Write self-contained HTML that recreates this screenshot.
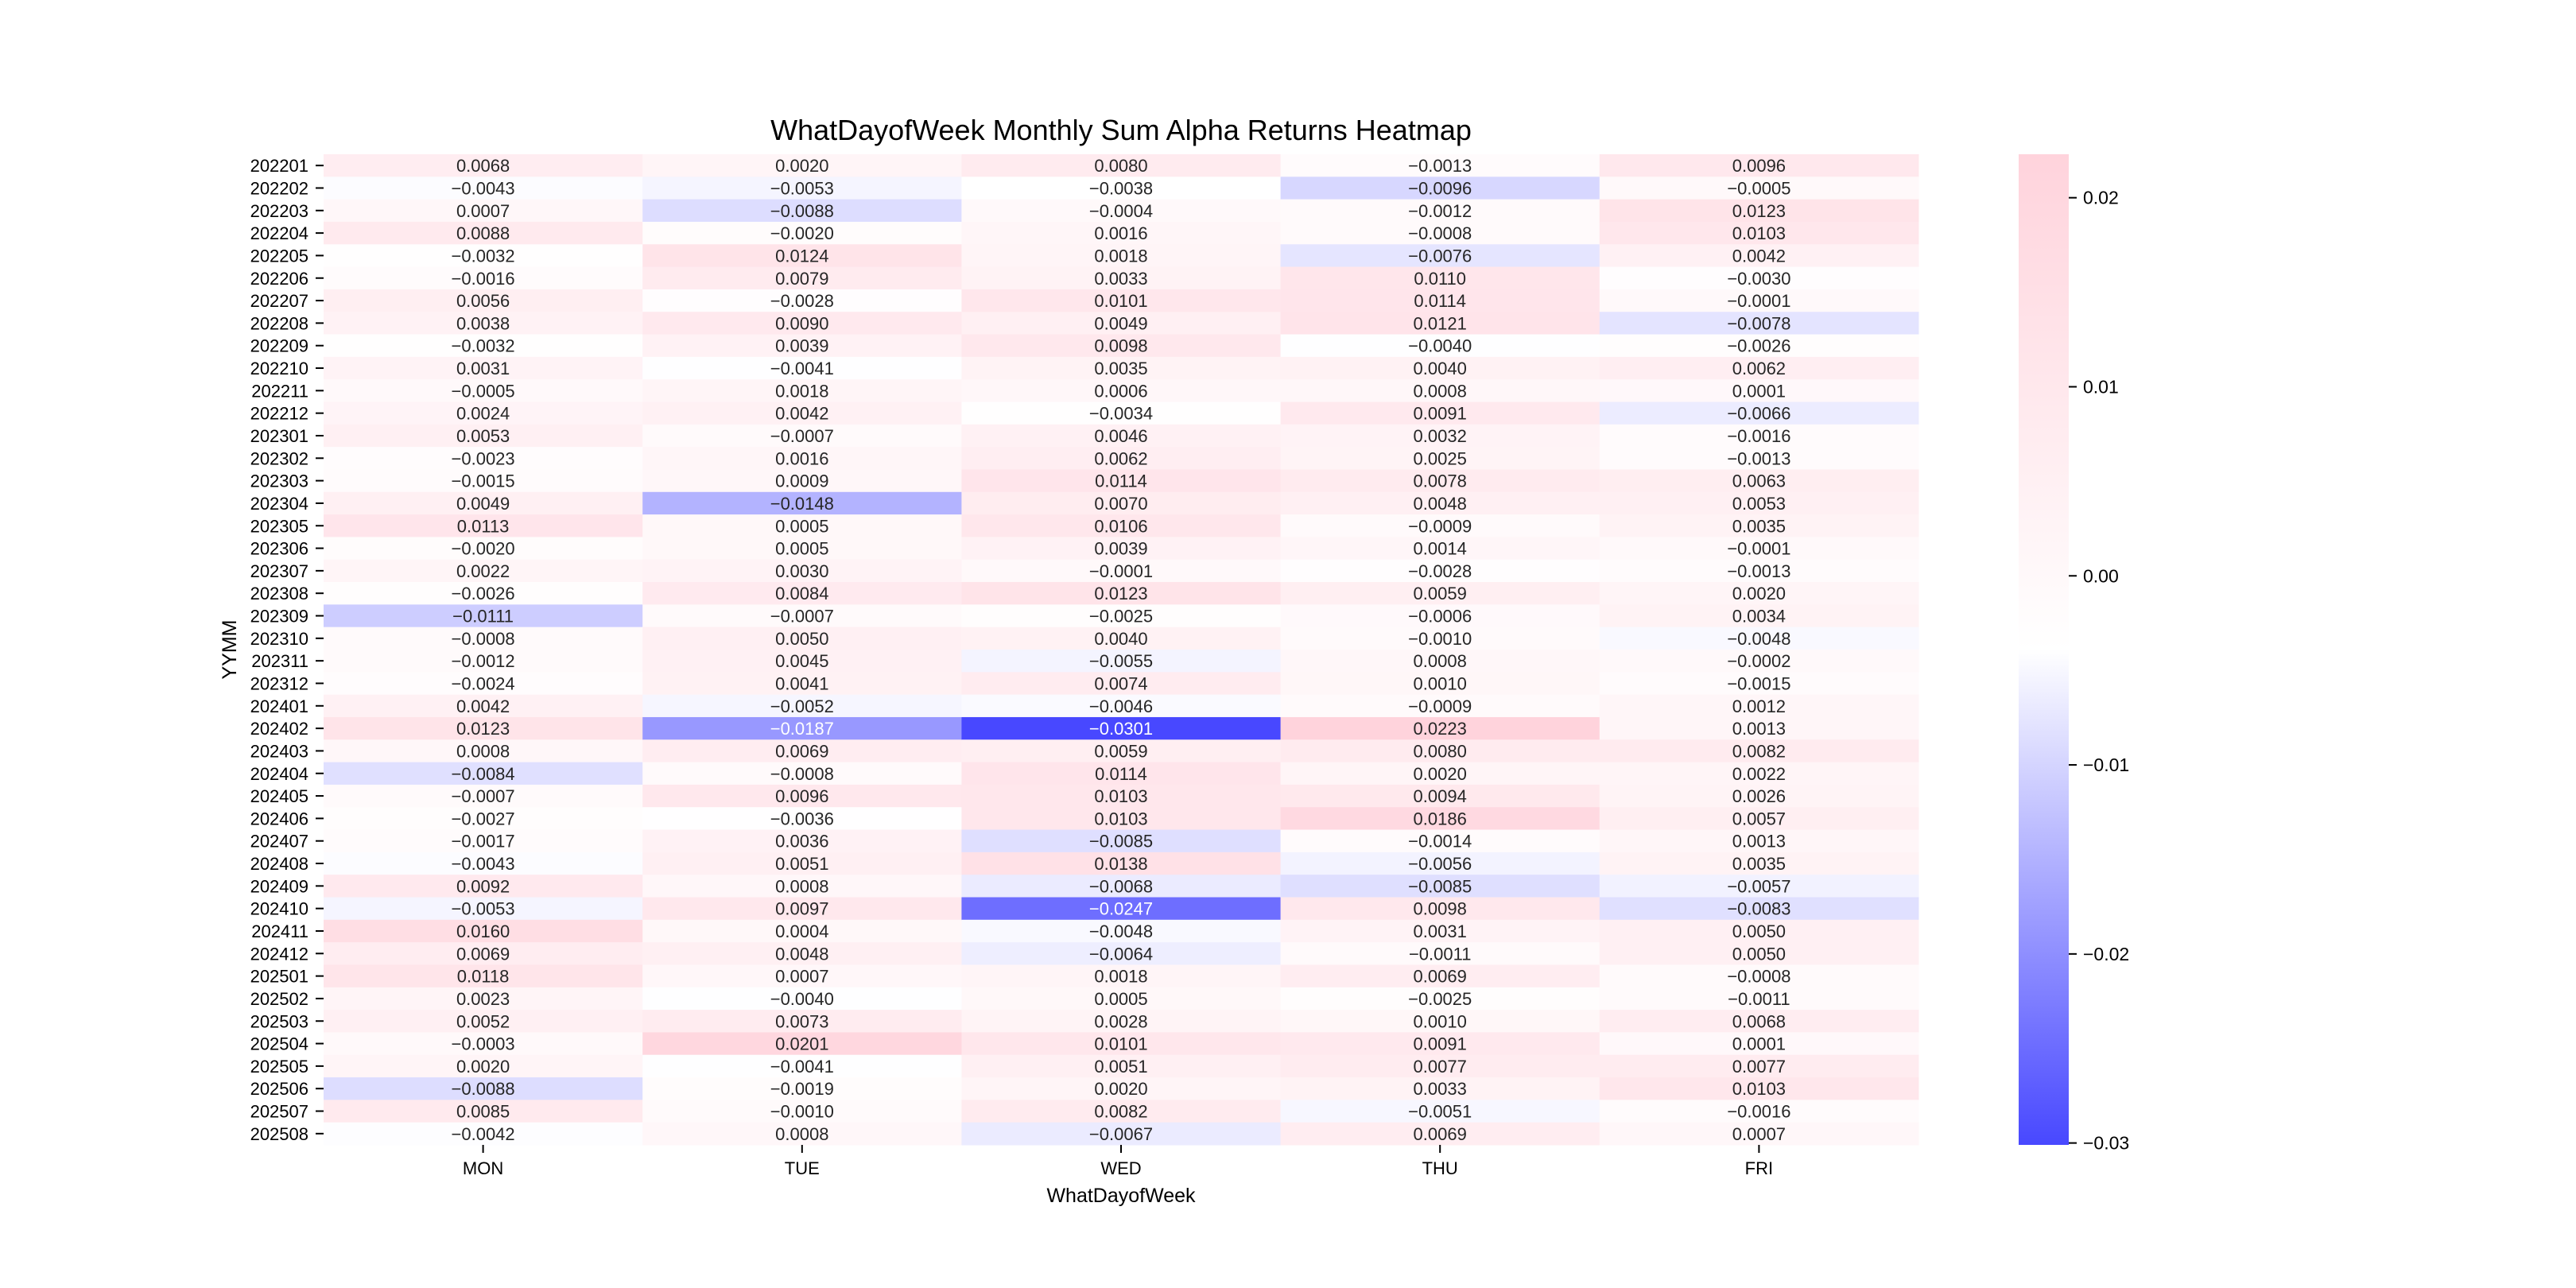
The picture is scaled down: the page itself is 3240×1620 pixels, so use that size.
<!DOCTYPE html>
<html><head><meta charset="utf-8"><style>
html,body{margin:0;padding:0;background:#fff;}
svg{display:block;font-family:"Liberation Sans","WenQuanYi Zen Hei",sans-serif;}
</style></head><body>
<svg id="chart" width="3240" height="1620" viewBox="0 0 3240 1620" xmlns="http://www.w3.org/2000/svg">
<defs><linearGradient id="cbgrad" x1="0" y1="1" x2="0" y2="0">
<stop offset="0" stop-color="rgb(72,72,255)"/><stop offset="0.5" stop-color="rgb(255,255,255)"/><stop offset="1" stop-color="rgb(255,211,220)"/>
</linearGradient></defs>
<text x="1410" y="176" font-size="36" text-anchor="middle" fill="#000">WhatDayofWeek Monthly Sum Alpha Returns Heatmap</text>
<g id="cells"></g>
<g id="yticks"></g>
<g id="xticks"></g>
<text x="1410" y="1512" font-size="25" text-anchor="middle">WhatDayofWeek</text>
<text transform="translate(297,817) rotate(-90)" font-size="25" text-anchor="middle">YYMM</text>
<rect x="2539" y="194" width="63" height="1246" fill="url(#cbgrad)"/>
<g id="cbticks"></g>
</svg>
<script>
const days = ["MON","TUE","WED","THU","FRI"];
const months = ["202201","202202","202203","202204","202205","202206","202207","202208","202209","202210","202211","202212","202301","202302","202303","202304","202305","202306","202307","202308","202309","202310","202311","202312","202401","202402","202403","202404","202405","202406","202407","202408","202409","202410","202411","202412","202501","202502","202503","202504","202505","202506","202507","202508"];
const monValues = [0.0068,-0.0043,0.0007,0.0088,-0.0032,-0.0016,0.0056,0.0038,-0.0032,0.0031,-0.0005,0.0024,0.0053,-0.0023,-0.0015,0.0049,0.0113,-0.0020,0.0022,-0.0026,-0.0111,-0.0008,-0.0012,-0.0024,0.0042,0.0123,0.0008,-0.0084,-0.0007,-0.0027,-0.0017,-0.0043,0.0092,-0.0053,0.0160,0.0069,0.0118,0.0023,0.0052,-0.0003,0.0020,-0.0088,0.0085,-0.0042];
const tueValues = [0.0020,-0.0053,-0.0088,-0.0020,0.0124,0.0079,-0.0028,0.0090,0.0039,-0.0041,0.0018,0.0042,-0.0007,0.0016,0.0009,-0.0148,0.0005,0.0005,0.0030,0.0084,-0.0007,0.0050,0.0045,0.0041,-0.0052,-0.0187,0.0069,-0.0008,0.0096,-0.0036,0.0036,0.0051,0.0008,0.0097,0.0004,0.0048,0.0007,-0.0040,0.0073,0.0201,-0.0041,-0.0019,-0.0010,0.0008];
const wedValues = [0.0080,-0.0038,-0.0004,0.0016,0.0018,0.0033,0.0101,0.0049,0.0098,0.0035,0.0006,-0.0034,0.0046,0.0062,0.0114,0.0070,0.0106,0.0039,-0.0001,0.0123,-0.0025,0.0040,-0.0055,0.0074,-0.0046,-0.0301,0.0059,0.0114,0.0103,0.0103,-0.0085,0.0138,-0.0068,-0.0247,-0.0048,-0.0064,0.0018,0.0005,0.0028,0.0101,0.0051,0.0020,0.0082,-0.0067];
const thuValues = [-0.0013,-0.0096,-0.0012,-0.0008,-0.0076,0.0110,0.0114,0.0121,-0.0040,0.0040,0.0008,0.0091,0.0032,0.0025,0.0078,0.0048,-0.0009,0.0014,-0.0028,0.0059,-0.0006,-0.0010,0.0008,0.0010,-0.0009,0.0223,0.0080,0.0020,0.0094,0.0186,-0.0014,-0.0056,-0.0085,0.0098,0.0031,-0.0011,0.0069,-0.0025,0.0010,0.0091,0.0077,0.0033,-0.0051,0.0069];
const friValues = [0.0096,-0.0005,0.0123,0.0103,0.0042,-0.0030,-0.0001,-0.0078,-0.0026,0.0062,0.0001,-0.0066,-0.0016,-0.0013,0.0063,0.0053,0.0035,-0.0001,-0.0013,0.0020,0.0034,-0.0048,-0.0002,-0.0015,0.0012,0.0013,0.0082,0.0022,0.0026,0.0057,0.0013,0.0035,-0.0057,-0.0083,0.0050,0.0050,-0.0008,-0.0011,0.0068,0.0001,0.0077,0.0103,-0.0016,0.0007];
const cbTickValues = [0.02,0.01,0.00,-0.01,-0.02,-0.03];
const cbTickLabels = ["0.02","0.01","0.00","\u22120.01","\u22120.02","\u22120.03"];

const series = [monValues,tueValues,wedValues,thuValues,friValues];
const NS = "http://www.w3.org/2000/svg";
const X0 = 407, X1 = 2413, Y0 = 194, Y1 = 1440;
const colW = (X1 - X0) / days.length;
const rowH = (Y1 - Y0) / months.length;
const all = series.flat();
const vmin = Math.min(...all), vmax = Math.max(...all);
const vmid = (vmin + vmax) / 2;
function xPos(i){ return X0 + i * colW; }
function yPos(j){ return Y0 + j * rowH; }
function cbY(v){ return Y0 + (vmax - v) / (vmax - vmin) * (Y1 - Y0); }
function color(v){
  let r,g,b;
  if (v >= vmid){ const t = (v - vmid)/(vmax - vmid); r=255; g=255-44*t; b=255-35*t; }
  else { const t = (vmid - v)/(vmid - vmin); r=255-183*t; g=255-183*t; b=255; }
  return [r,g,b];
}
function lum(c){ const f=x=>{x/=255;return x<=0.03928?x/12.92:Math.pow((x+0.055)/1.055,2.4);}; return 0.2126*f(c[0])+0.7152*f(c[1])+0.0722*f(c[2]); }
function fmt(v){ const s = Math.abs(v).toFixed(4); return (v < 0 ? "\u2212" : "") + s; }
function mk(tag, attrs, parent){ const e = document.createElementNS(NS, tag); for (const k in attrs) e.setAttribute(k, attrs[k]); parent.appendChild(e); return e; }

const cells = document.getElementById("cells");
series.forEach((vals, i) => {
  vals.forEach((v, j) => {
    const c = color(v);
    const r = mk("rect", {x: xPos(i), y: yPos(j), width: colW + 0.5, height: rowH + 0.5, fill: `rgb(${c[0].toFixed(0)},${c[1].toFixed(0)},${c[2].toFixed(0)})`}, cells);
    
    
    const t = mk("text", {x: xPos(i) + colW/2, y: yPos(j) + rowH/2 + 8, "font-size": 22, "text-anchor": "middle", fill: lum(c) > 0.408 ? "#262626" : "#fff"}, cells);
    t.textContent = fmt(v);
    
    
  });
});
const yt = document.getElementById("yticks");
months.forEach((m, j) => {
  const yc = yPos(j) + rowH/2;
  const l = mk("line", {x1: 397, x2: 407, y1: yc, y2: yc, stroke: "#000", "stroke-width": 2}, yt);
  
  
  const t = mk("text", {x: 388, y: yc + 8, "font-size": 22, "text-anchor": "end"}, yt);
  t.textContent = m;
  
  
});
const xt = document.getElementById("xticks");
days.forEach((d, i) => {
  const xc = xPos(i) + colW/2;
  const l = mk("line", {x1: xc, x2: xc, y1: Y1, y2: Y1 + 10, stroke: "#000", "stroke-width": 2}, xt);
  
  
  const t = mk("text", {x: xc, y: Y1 + 37, "font-size": 22, "text-anchor": "middle"}, xt);
  t.textContent = d;
  
  
});
const cb = document.getElementById("cbticks");
cbTickValues.forEach((v, k) => {
  const y = cbY(v);
  const l = mk("line", {x1: 2602, x2: 2612, y1: y, y2: y, stroke: "#000", "stroke-width": 2}, cb);
  
  
  const t = mk("text", {x: 2620, y: y + 8, "font-size": 23}, cb);
  t.textContent = cbTickLabels[k];
  
  
});
</script>
</body></html>
